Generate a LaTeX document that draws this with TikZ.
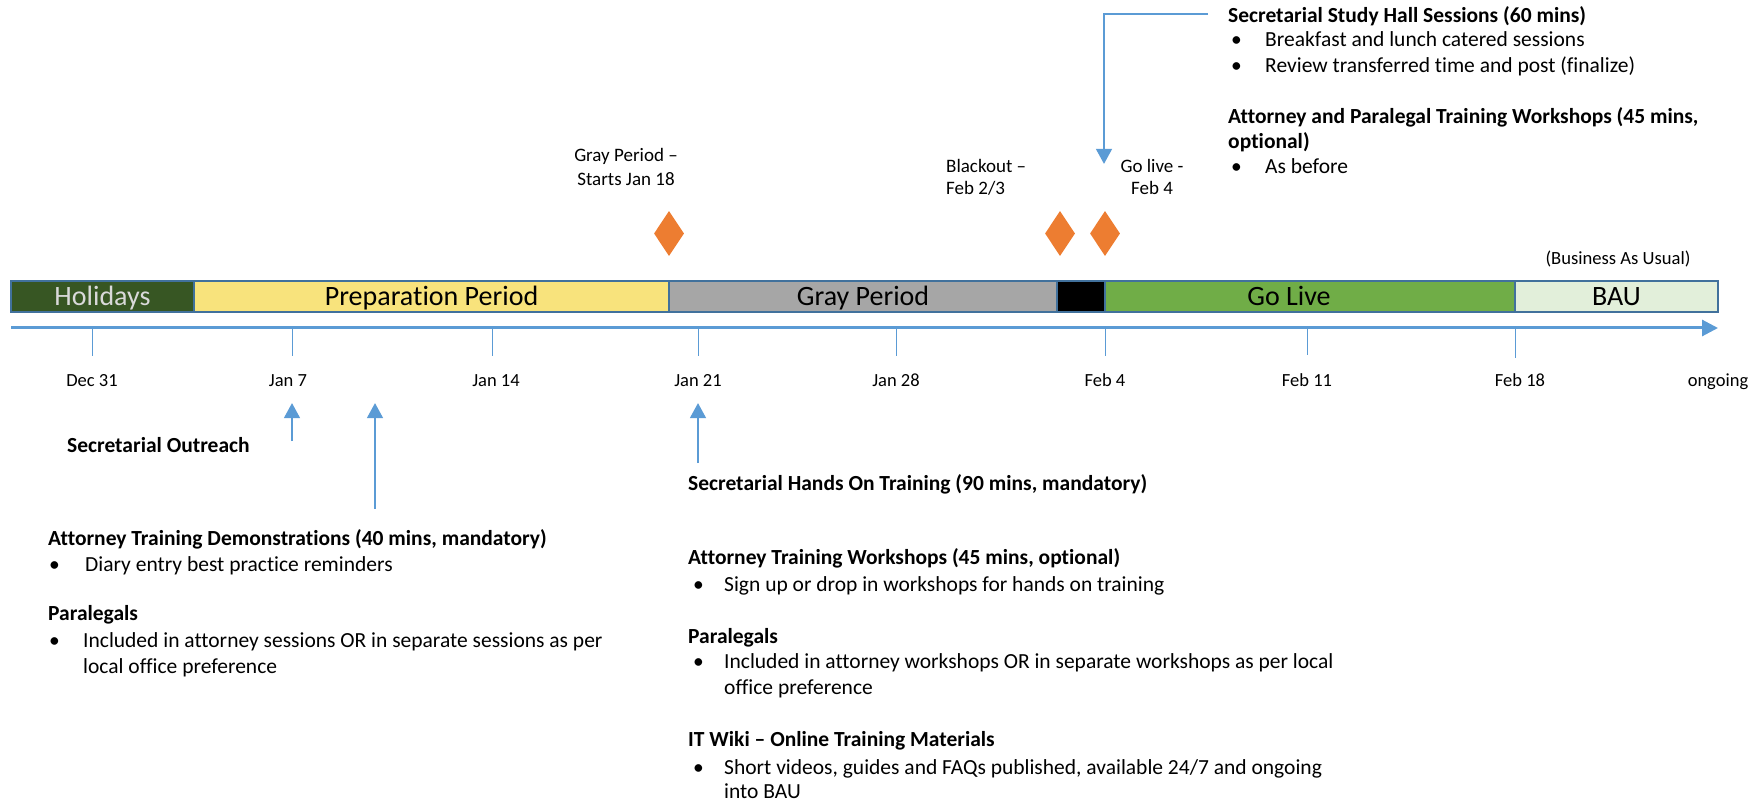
\documentclass[tikz,border=0pt]{standalone}
\usepackage{fontspec}
\setmainfont{Carlito}[Ligatures={NoCommon}]
\usetikzlibrary{arrows.meta,shapes.geometric}
\definecolor{holg}{HTML}{375623}
\definecolor{prepy}{HTML}{F8E37C}
\definecolor{grayp}{HTML}{A6A6A6}
\definecolor{golg}{HTML}{70AD47}
\definecolor{baug}{HTML}{E2EFDA}
\definecolor{barline}{HTML}{41719C}
\definecolor{axblue}{HTML}{5B9BD5}
\definecolor{dorange}{HTML}{ED7D31}
\definecolor{holtext}{HTML}{D9D9D9}
\tikzset{
  barbox/.style={draw=barline, line width=1.5pt, minimum height=31pt, inner sep=0pt, font=\fontsize{28}{32}\selectfont, text height=19pt, text depth=0pt},
  barlabel/.style={inner sep=0pt, font=\fontsize{28}{32}\selectfont, text height=19pt, text depth=0pt},
  axisline/.style={draw=axblue, line width=3pt, -{Triangle[length=16pt,width=16pt]}},
  tickline/.style={draw=axblue, line width=1pt},
  ticklabel/.style={inner sep=0pt, font=\fontsize{18.5}{22}\selectfont, text height=13.9pt, text depth=4.6pt},
  blarrow/.style={draw=axblue, line width=2.7pt, -{Triangle[length=15pt,width=15.5pt]}},
  milestone/.style={diamond, fill=dorange, minimum width=30pt, minimum height=45pt, aspect=0.667, inner sep=0pt},
  txt/.style={inner sep=0pt, anchor=west, font=\fontsize{21.5}{25}\selectfont, text height=16.1pt, text depth=5.4pt},
  hdr/.style={txt, font=\fontsize{21.5}{25}\selectfont\bfseries},
  small/.style={inner sep=0pt, font=\fontsize{19}{22}\selectfont, text height=14.25pt, text depth=4.75pt},
}
\begin{document}
\begin{tikzpicture}[x=1pt,y=-1pt]
\useasboundingbox (0,0) rectangle (1757,802);
% bars
\node[barbox, fill=holg, text=holtext, minimum width=183pt] (hol) at (102.5,296.5) {Holidays};
\node[barbox, fill=prepy, minimum width=475pt] (prep) at (431.5,296.5) {Preparation Period};
\node[barbox, fill=grayp, minimum width=388pt] (gray) at (863,296.5) {Gray Period};
\node[barbox, fill=black, minimum width=48pt] (black) at (1081,296.5) {};
\node[barbox, fill=golg, minimum width=410pt] (golive) at (1310,296.5) {};
\node[barlabel] (golivetxt) at (1289,296.5) {Go Live};
\node[barbox, fill=baug, minimum width=203pt] (bau) at (1616.5,296.5) {BAU};
\node[small, font=\fontsize{18.6}{22}\selectfont] (bauus) at (1618,260) {(Business As Usual)};
% axis
\coordinate (ax0) at (11,328);
\coordinate (ax1) at (1718,328);
\draw[axisline] (ax0) -- (ax1);
% ticks
\foreach \n/\x/\lab/\lx/\ty in {t1/92/Dec 31/92/356, t2/292/Jan 7/288/356, t3/492/Jan 14/496/356, t4/698/Jan 21/698/356, t5/896/Jan 28/896/356, t6/1105/Feb 4/1105/356, t7/1307/Feb 11/1307/355, t8/1515/Feb 18/1520/358}{
  \coordinate (\n a) at (\x,329);
  \coordinate (\n b) at (\x,\ty);
  \draw[tickline] (\n a) -- (\n b);
  \node[ticklabel] (\n lab) at (\lx,381.5) {\lab};
}
\node[ticklabel] (ongoing) at (1718,381.5) {ongoing};
% milestones
\node[milestone] (m1) at (669,233.5) {};
\node[milestone] (m2) at (1060,233.5) {};
\node[milestone] (m3) at (1105,233.5) {};
\node[small] (graylab1) at (626,157) {Gray Period –};
\node[small] (graylab2) at (626,180.3) {Starts Jan 18};
\node[small, anchor=west] (blk1) at (946,167.5) {Blackout –};
\node[small, anchor=west] (blk2) at (946,189.5) {Feb 2/3};
\node[small] (gl1) at (1152,167.5) {Go live -};
\node[small] (gl2) at (1152,189.5) {Feb 4};
% top arrow
\coordinate (ta0) at (1208,14);
\coordinate (ta1) at (1104,14);
\coordinate (ta2) at (1104,164);
\draw[blarrow] (ta0) -- (ta1) -- (ta2);
% top-right text
\node[hdr] (ss) at (1228,17.3) {Secretarial Study Hall Sessions (60 mins)};
\node[txt] (ssb1) at (1231,41.3) {•};
\node[txt] (sst1) at (1265,41.3) {Breakfast and lunch catered sessions};
\node[txt] (ssb2) at (1231,67.3) {•};
\node[txt] (sst2) at (1265,67.3) {Review transferred time and post (finalize)};
\node[hdr] (ap1) at (1228,118) {Attorney and Paralegal Training Workshops (45 mins,};
\node[hdr] (ap2) at (1228,143.5) {optional)};
\node[txt] (apb) at (1231,168.6) {•};
\node[txt] (apt) at (1265,168.6) {As before};
% up arrows
\coordinate (a1s) at (292,441); \coordinate (a1e) at (292,403);
\draw[blarrow] (a1s) -- (a1e);
\coordinate (a2s) at (375,508.5); \coordinate (a2e) at (375,403);
\draw[blarrow] (a2s) -- (a2e);
\coordinate (a3s) at (698,463); \coordinate (a3e) at (698,403);
\draw[blarrow] (a3s) -- (a3e);
% left texts
\node[hdr] (so) at (67,447.5) {Secretarial Outreach};
\node[hdr] (atd) at (48,540.5) {Attorney Training Demonstrations (40 mins, mandatory)};
\node[txt] (atdb) at (49,566.5) {•};
\node[txt] (atdt) at (85,566.5) {Diary entry best practice reminders};
\node[hdr] (pl) at (48,615.5) {Paralegals};
\node[txt] (plb) at (49,642.5) {•};
\node[txt] (plt1) at (83,642.5) {Included in attorney sessions OR in separate sessions as per};
\node[txt] (plt2) at (83,668.5) {local office preference};
% middle texts
\node[hdr] (sho) at (688,485.5) {Secretarial Hands On Training (90 mins, mandatory)};
\node[hdr] (atw) at (688,559.5) {Attorney Training Workshops (45 mins, optional)};
\node[txt] (atwb) at (693,586.5) {•};
\node[txt] (atwt) at (724,586.5) {Sign up or drop in workshops for hands on training};
\node[hdr] (pl2) at (688,638.5) {Paralegals};
\node[txt] (pl2b) at (693,663.5) {•};
\node[txt] (pl2t1) at (724,663.5) {Included in attorney workshops OR in separate workshops as per local};
\node[txt] (pl2t2) at (724,689.5) {office preference};
\node[hdr] (itw) at (688,741.5) {IT Wiki – Online Training Materials};
\node[txt] (itwb) at (693,769.5) {•};
\node[txt] (itwt1) at (724,769.5) {Short videos, guides and FAQs published, available 24/7 and ongoing};
\node[txt] (itwt2) at (724,793.5) {into BAU};
\end{tikzpicture}
\end{document}
